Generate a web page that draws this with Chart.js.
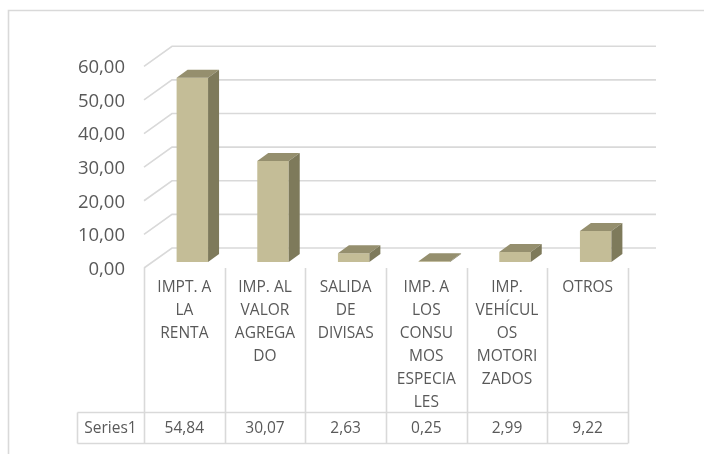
<!DOCTYPE html>
<html>
<head>
<meta charset="utf-8">
<script src="https://cdn.jsdelivr.net/npm/chart.js@4/dist/chart.umd.min.js"></script>
<style>
  html, body { margin: 0; padding: 0; background: #ffffff; }
  canvas { display: block; }
</style>
</head>
<body>
<canvas id="chart" width="704" height="454"></canvas>
<script>
// datos del gráfico
const categories = [
    ['IMPT. A', 'LA', 'RENTA'],
    ['IMP. AL', 'VALOR', 'AGREGA', 'DO'],
    ['SALIDA', 'DE', 'DIVISAS'],
    ['IMP. A', 'LOS', 'CONSU', 'MOS', 'ESPECIA', 'LES'],
    ['IMP.', 'VEHÍCUL', 'OS', 'MOTORI', 'ZADOS'],
    ['OTROS']
];
const seriesName = 'Series1';
const values = [54.84, 30.07, 2.63, 0.25, 2.99, 9.22];
const yTicks = [0, 10, 20, 30, 40, 50, 60];

const GRID = '#d9d9d9';
const TEXT = '#595959';
const BACK = { dx: 20, dy: -14 };   // pared del fondo respecto al plano de las barras
const FRONT = { dx: -8, dy: 6 };    // borde frontal del piso
const DEPTH = { dx: 11, dy: -8 };   // profundidad de cada barra

function fmt(v) {
    return v.toFixed(2).replace('.', ',');
}

const fake3d = {
    id: 'fake3d',
    beforeDatasetsDraw(chart) {
        const ctx = chart.ctx;
        const y = chart.scales.y;
        const area = chart.chartArea;

        ctx.save();
        // borde exterior
        ctx.strokeStyle = GRID;
        ctx.lineWidth = 1.6;
        ctx.beginPath();
        ctx.moveTo(8.5, 460);
        ctx.lineTo(8.5, 10.5);
        ctx.lineTo(710, 10.5);
        ctx.stroke();

        // líneas de la cuadrícula + etiquetas del eje
        ctx.font = '18.5px "Open Sans"';
        ctx.fillStyle = TEXT;
        ctx.textAlign = 'right';
        ctx.textBaseline = 'middle';
        yTicks.forEach(v => {
            const py = y.getPixelForValue(v);
            ctx.beginPath();
            ctx.moveTo(area.right + BACK.dx, py + BACK.dy);
            ctx.lineTo(area.left + BACK.dx, py + BACK.dy);
            ctx.lineTo(area.left + FRONT.dx, py + FRONT.dy);
            ctx.stroke();
            ctx.fillText(fmt(v), area.left + FRONT.dx - 19, py + FRONT.dy + 1.5);
        });

        // tabla de datos
        const n = values.length;
        const colW = (area.right - area.left) / n;
        const left = area.left + FRONT.dx;
        const floorY = y.getPixelForValue(0) + FRONT.dy;
        const rowTop = 412.5, rowBot = 443.5;
        ctx.beginPath();
        for (let i = 0; i <= n; i++) {
            const cx = Math.round(left + i * colW) + 0.5;
            ctx.moveTo(cx, floorY);
            ctx.lineTo(cx, rowBot);
        }
        ctx.moveTo(77.5, rowTop);
        ctx.lineTo(77.5, rowBot);
        ctx.moveTo(77.5, rowTop);
        ctx.lineTo(left + n * colW, rowTop);
        ctx.moveTo(77.5, rowBot);
        ctx.lineTo(left + n * colW, rowBot);
        ctx.stroke();

        ctx.font = '15.5px "Open Sans"';
        ctx.textAlign = 'center';
        categories.forEach((lines, i) => {
            const cx = left + (i + 0.5) * colW;
            lines.forEach((t, k) => ctx.fillText(t, cx, 288 + k * 23));
            ctx.fillText(fmt(values[i]), cx, 428.5);
        });
        ctx.fillText(seriesName, (77 + left) / 2, 428.5);
        ctx.restore();
    },
    afterDatasetsDraw(chart) {
        const ctx = chart.ctx;
        const meta = chart.getDatasetMeta(0);
        ctx.save();
        meta.data.forEach(bar => {
            const l = bar.x - bar.width / 2;
            const r = bar.x + bar.width / 2;
            const t = bar.y;
            const b = bar.base;
            // cara superior
            ctx.fillStyle = '#958f6e';
            ctx.beginPath();
            ctx.moveTo(l, t);
            ctx.lineTo(r, t);
            ctx.lineTo(r + DEPTH.dx, t + DEPTH.dy);
            ctx.lineTo(l + DEPTH.dx, t + DEPTH.dy);
            ctx.closePath();
            ctx.fill();
            // cara lateral
            ctx.fillStyle = '#7e7a5b';
            ctx.beginPath();
            ctx.moveTo(r, t);
            ctx.lineTo(r + DEPTH.dx, t + DEPTH.dy);
            ctx.lineTo(r + DEPTH.dx, b + DEPTH.dy);
            ctx.lineTo(r, b);
            ctx.closePath();
            ctx.fill();
        });
        ctx.restore();
    }
};

new Chart(document.getElementById('chart').getContext('2d'), {
    type: 'bar',
    data: {
        labels: categories,
        datasets: [{
            label: seriesName,
            data: values,
            backgroundColor: '#c4bd97',
            borderWidth: 0,
            barPercentage: 0.39,
            categoryPercentage: 1
        }]
    },
    options: {
        responsive: false,
        animation: false,
        layout: {
            padding: { left: 152, right: 68, top: 60.3, bottom: 192 }
        },
        plugins: {
            legend: { display: false },
            tooltip: { enabled: false }
        },
        scales: {
            x: { display: false },
            y: { display: false, min: 0, max: 60 }
        }
    },
    plugins: [fake3d]
});
</script>
</body>
</html>
